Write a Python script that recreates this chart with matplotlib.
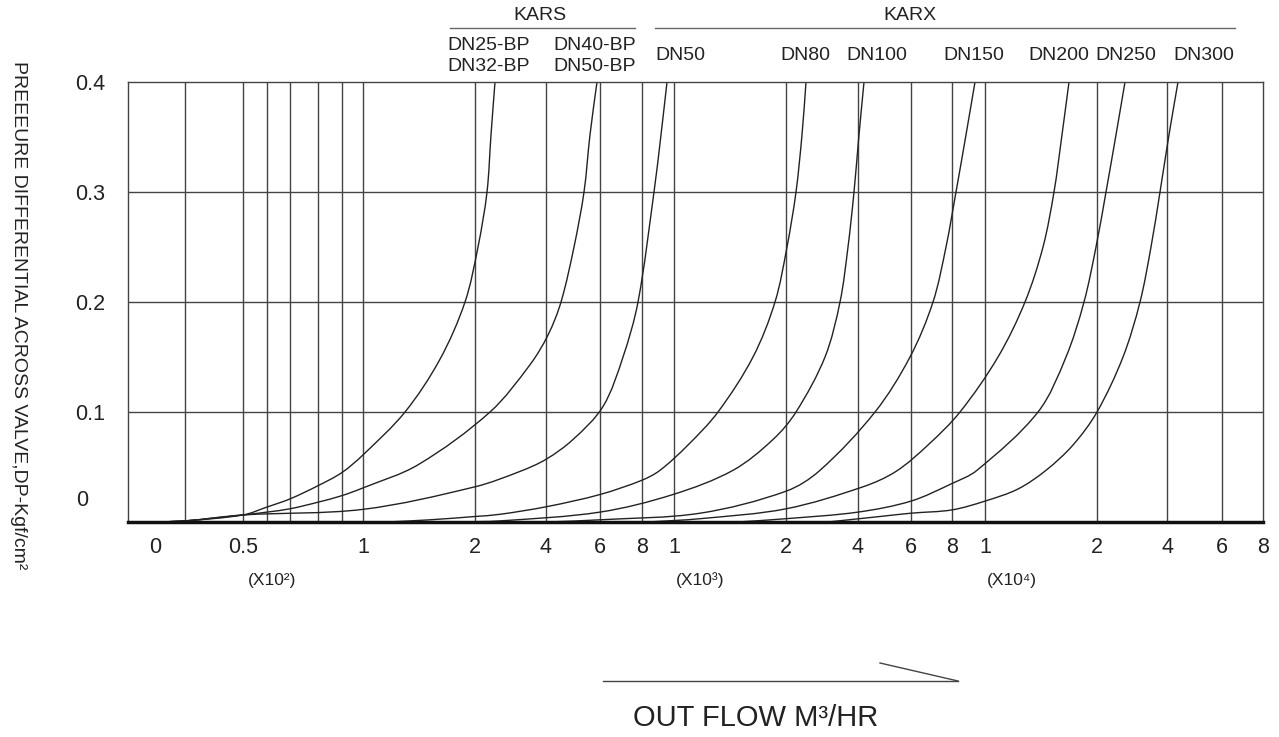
import matplotlib
matplotlib.use("Agg")
import numpy as np
import matplotlib.pyplot as plt
from matplotlib.lines import Line2D
from matplotlib.path import Path
from matplotlib.patches import PathPatch

plt.rcParams['font.family'] = ['Liberation Sans', 'DejaVu Sans']

# ---- chart coordinate system: x in chart units (0 .. 1135), y in kgf/cm2 ----
x_max = 1135
y_max = 0.4

# vertical grid line positions (chart units)
grid_x = [57, 115, 139, 162, 190, 214, 235, 347, 418, 472, 514, 546,
          658, 730, 783, 824, 857, 969, 1039, 1094]
grid_y = [0.1, 0.2, 0.3]

# x tick labels
tick_pos = [27, 115, 235, 347, 418, 472, 514, 546, 658, 730, 783, 824, 857, 969, 1039, 1094, 1135]
tick_lab = ["0", "0.5", "1", "2", "4", "6", "8", "1", "2", "4", "6", "8", "1", "2", "4", "6", "8"]
mult_pos = [144, 572, 884]
mult_lab = ["(X10²)", "(X10³)", "(X10⁴)"]

y_ticks = [0.1, 0.2, 0.3, 0.4]
y_labels = ["0.1", "0.2", "0.3", "0.4"]

# curves (x in chart units, y in kgf/cm2)
dn25_x = [25, 57, 115, 139, 162, 190, 214, 235, 277, 312, 337, 350, 359, 363, 367]
dn25_y = [0.0, 0.001, 0.0064, 0.0136, 0.021, 0.033, 0.045, 0.061, 0.1, 0.148, 0.2, 0.25, 0.3, 0.352, 0.4]

dn40_x = [25, 57, 115, 139, 162, 190, 214, 235, 290, 362, 402, 420, 433, 446, 456, 462, 469]
dn40_y = [0.0, 0.001, 0.0064, 0.009, 0.012, 0.018, 0.024, 0.031, 0.052, 0.1, 0.143, 0.17, 0.2, 0.25,
          0.3, 0.352, 0.4]

dn50_x = [25, 57, 115, 235, 347, 392, 418, 445, 475, 495, 510, 526, 533, 539]
dn50_y = [0.0, 0.001, 0.0064, 0.0115, 0.032, 0.046, 0.057, 0.075, 0.105, 0.15, 0.2, 0.3, 0.352, 0.4]

dn80_x = [260, 302, 347, 372, 419, 472, 514, 532, 560, 590, 625, 647, 659, 668, 674, 678]
dn80_y = [0.0, 0.002, 0.005, 0.007, 0.014, 0.025, 0.038, 0.047, 0.07, 0.1, 0.15, 0.2, 0.25, 0.3, 0.352, 0.4]

dn100_x = [330, 372, 472, 545, 605, 645, 668, 697, 712, 720, 726, 731, 736]
dn100_y = [0.0, 0.001, 0.009, 0.025, 0.047, 0.075, 0.1, 0.15, 0.2, 0.25, 0.3, 0.352, 0.4]

dn150_x = [420, 472, 572, 658, 692, 747, 782, 805, 818, 828, 838, 847]
dn150_y = [0.0, 0.002, 0.008, 0.028, 0.047, 0.1, 0.15, 0.2, 0.25, 0.3, 0.352, 0.4]

dn200_x = [520, 572, 658, 735, 768, 800, 832, 870, 897, 915, 926, 934, 941]
dn200_y = [0.0, 0.003, 0.012, 0.032, 0.046, 0.07, 0.1, 0.15, 0.2, 0.25, 0.3, 0.352, 0.4]

dn250_x = [610, 658, 730, 783, 824, 849, 910, 938, 956, 968, 978, 988, 997]
dn250_y = [0.0, 0.003, 0.009, 0.019, 0.035, 0.047, 0.1, 0.15, 0.2, 0.25, 0.3, 0.352, 0.4]

dn300_x = [700, 752, 783, 824, 857, 890, 918, 945, 969, 995, 1012, 1023, 1032, 1041, 1050]
dn300_y = [0.0, 0.005, 0.008, 0.011, 0.019, 0.03, 0.047, 0.07, 0.1, 0.15, 0.2, 0.25, 0.3, 0.352, 0.4]

curves = [(dn25_x, dn25_y), (dn40_x, dn40_y), (dn50_x, dn50_y), (dn80_x, dn80_y),
          (dn100_x, dn100_y), (dn150_x, dn150_y), (dn200_x, dn200_y),
          (dn250_x, dn250_y), (dn300_x, dn300_y)]

# top labels
group_names = ["KARS", "KARX"]
group_text_x = [412, 782]
group_line = [(322, 507), (527, 1107)]

size_row1 = ["DN25-BP", "DN40-BP"]
size_row2 = ["DN32-BP", "DN50-BP"]
size_row_x = [361, 467]
size_labels = ["DN50", "DN80", "DN100", "DN150", "DN200", "DN250", "DN300"]
size_label_x = [552, 677, 749, 846, 931, 998, 1076]

# pixels per chart unit in x and y (for smoothing in screen proportions)
PX_X = 1.0
PX_Y = 1100.0


def smooth_path(xs, ys):
    """Smooth Bezier path through the read points (tangent = neighbour chord, in screen space)."""
    P = np.column_stack([np.asarray(xs, float) * PX_X, np.asarray(ys, float) * PX_Y])
    n = len(P)
    T = np.zeros_like(P)
    for i in range(n):
        if i == 0:
            d = P[1] - P[0]
        elif i == n - 1:
            d = P[-1] - P[-2]
        else:
            d = P[i + 1] - P[i - 1]
        T[i] = d / np.hypot(*d)
    verts = [P[0]]
    codes = [Path.MOVETO]
    for i in range(n - 1):
        L = np.hypot(*(P[i + 1] - P[i])) / 3.0
        verts += [P[i] + T[i] * L, P[i + 1] - T[i + 1] * L, P[i + 1]]
        codes += [Path.CURVE4] * 3
    V = np.array(verts)
    V[:, 0] /= PX_X
    V[:, 1] /= PX_Y
    return Path(V, codes)


# ---------------------------------------------------------------------------
fig = plt.figure(figsize=(12.79, 7.37), dpi=100)
ax = fig.add_axes([128 / 1279, 1 - 522 / 737, (1263 - 128) / 1279, (522 - 82) / 737])
ax.set_xlim(0, x_max)
ax.set_ylim(0, y_max)

grid_col = "#444444"
for gx in grid_x:
    ax.axvline(gx, color=grid_col, lw=1.0, zorder=1)
for gy in grid_y:
    ax.axhline(gy, color=grid_col, lw=1.0, zorder=1)

for cx, cy in curves:
    ax.add_patch(PathPatch(smooth_path(cx, cy), facecolor="none", edgecolor="#222222",
                           lw=1.0, zorder=2, clip_on=False))

for side in ["top", "left", "right"]:
    ax.spines[side].set_color(grid_col)
    ax.spines[side].set_linewidth(1.0)
ax.spines["bottom"].set_color("#111111")
ax.spines["bottom"].set_linewidth(2.5)
ax.spines["bottom"].set_zorder(3)

txt_col = "#222222"
ax.set_xticks(tick_pos)
ax.set_xticklabels(tick_lab, fontsize=15.5, color=txt_col)
ax.tick_params(axis="x", length=0, pad=11)

ax.set_yticks(y_ticks)
ax.set_yticklabels(y_labels, fontsize=15.5, color=txt_col, ha="left")
ax.tick_params(axis="y", length=0, pad=38)
ax.text(-52, 0.02, "0", fontsize=15.5, color=txt_col, ha="left", va="center")

for mx, ml in zip(mult_pos, mult_lab):
    ax.text(mx, -0.053, ml, fontsize=12.5, color=txt_col, ha="center", va="center",
            clip_on=False)

for name, tx, (l0, l1) in zip(group_names, group_text_x, group_line):
    ax.text(tx, 0.460, name, fontsize=14, color=txt_col, ha="center", va="center",
            clip_on=False)
    ax.plot([l0, l1], [0.449, 0.449], color="#666666", lw=1.0, clip_on=False)

for r1, r2, lx in zip(size_row1, size_row2, size_row_x):
    ax.text(lx, 0.433, r1, fontsize=14, color=txt_col, ha="center", va="center", clip_on=False)
    ax.text(lx, 0.414, r2, fontsize=14, color=txt_col, ha="center", va="center", clip_on=False)

for lab, lx in zip(size_labels, size_label_x):
    ax.text(lx, 0.424, lab, fontsize=14, color=txt_col, ha="center", va="center",
            clip_on=False)

fig.text(18 / 1279, 1 - 315 / 737, "PREEEURE DIFFERENTIAL ACROSS VALVE,DP-Kgf/cm²",
         rotation=270, fontsize=14, color=txt_col, ha="center", va="center")

fig.text(756 / 1279, 1 - 718 / 737, "OUT FLOW M³/HR", fontsize=21, color=txt_col,
         ha="center", va="center")
fig.add_artist(Line2D([603 / 1279, 958 / 1279], [1 - 681 / 737, 1 - 681 / 737],
                      color="#444444", lw=1.0))
fig.add_artist(Line2D([880 / 1279, 958 / 1279], [1 - 663 / 737, 1 - 681 / 737],
                      color="#444444", lw=1.0))

fig.savefig("out.png", dpi=100)
